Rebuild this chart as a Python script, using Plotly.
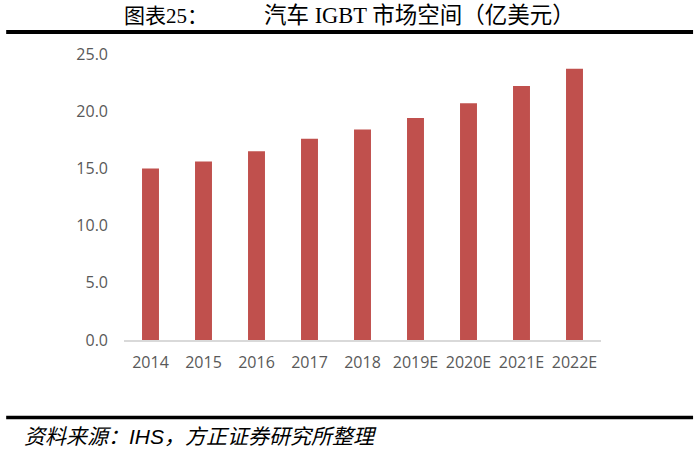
import plotly.graph_objects as go

years = ["2014", "2015", "2016", "2017", "2018", "2019E", "2020E", "2021E", "2022E"]
market = [15.0, 15.6, 16.5, 17.6, 18.4, 19.4, 20.7, 22.2, 23.7]
y_ticks = [0, 5, 10, 15, 20, 25]
y_tick_labels = ["0.0", "5.0", "10.0", "15.0", "20.0", "25.0"]

fig = go.Figure()
fig.add_trace(go.Bar(x=years, y=market, marker=dict(color="#C0504D", line=dict(width=0)),
                     hoverinfo="x+y"))

fig.update_layout(
    width=700, height=458,
    margin=dict(l=124, r=99, t=54, b=118),
    plot_bgcolor="white", paper_bgcolor="white",
    bargap=0.68,
    showlegend=False,
    font=dict(family="Open Sans, Noto Sans CJK SC", color="#595959", size=14),
    xaxis=dict(showline=True, linecolor="#D9D9D9", linewidth=1.5, ticks="",
               ticklabelstandoff=7,
               tickfont=dict(size=16, color="#595959"), fixedrange=True),
    yaxis=dict(range=[0, 25], tickvals=y_ticks, ticktext=y_tick_labels, showgrid=False,
               zeroline=False, showline=False, ticks="", ticklabelstandoff=15,
               tickfont=dict(size=16, color="#595959"), fixedrange=True),
    shapes=[
        dict(type="line", xref="paper", yref="paper", x0=-0.247, x1=1.193, y0=1.077, y1=1.077,
             line=dict(color="black", width=4)),
        dict(type="line", xref="paper", yref="paper", x0=-0.247, x1=1.193, y0=-0.271, y1=-0.271,
             line=dict(color="black", width=3.5)),
    ],
    annotations=[
        dict(text="图表25：",
             xref="paper", yref="paper", x=-0.004, y=1.133, xanchor="left", yanchor="middle",
             showarrow=False, font=dict(family="Liberation Serif, Noto Sans CJK SC", size=21, color="black")),
        dict(text="汽车 IGBT 市场空间（亿美元）",
             xref="paper", yref="paper", x=0.289, y=1.133, xanchor="left", yanchor="middle",
             showarrow=False, font=dict(family="Liberation Serif, Noto Sans CJK SC", size=22.5, color="black")),
        dict(text="<i>资料来源：IHS，方正证券研究所整理</i>",
             xref="paper", yref="paper", x=-0.214, y=-0.336, xanchor="left", yanchor="middle",
             showarrow=False, font=dict(family="Liberation Sans, Noto Sans CJK SC", size=21, color="black")),
    ],
)

fig.write_html("out.html", config={"displayModeBar": False},
               post_script="document.body.style.margin='0';")
